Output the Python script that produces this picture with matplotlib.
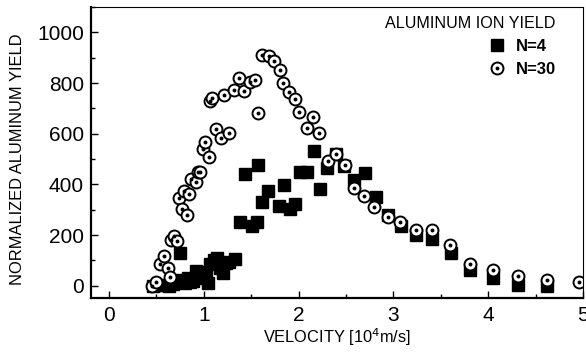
import matplotlib
matplotlib.use("Agg")
import matplotlib.pyplot as plt
from matplotlib.ticker import MultipleLocator

plt.rcParams['font.family'] = ['Liberation Sans', 'DejaVu Sans']

# N=4 (filled squares)
v_n4 = [0.47, 0.53, 0.58, 0.63, 0.68, 0.72, 0.75, 0.77, 0.80, 0.83, 0.86, 0.89,
        0.92, 0.95, 0.98, 1.02, 1.05, 1.07, 1.11, 1.14, 1.17, 1.20, 1.23, 1.27,
        1.33, 1.38, 1.44, 1.51, 1.56, 1.57, 1.62, 1.68, 1.79, 1.85, 1.91, 1.96,
        2.02, 2.09, 2.16, 2.23, 2.30, 2.39, 2.48, 2.58, 2.70, 2.82, 2.94, 3.08,
        3.24, 3.41, 3.61, 3.81, 4.05, 4.31, 4.62]
y_n4 = [0, 2, 5, 0, 8, 14, 131, 22, 10, 30, 15, 20,
        60, 40, 30, 55, 10, 85, 100, 110, 70, 50, 90, 95,
        105, 250, 443, 236, 252, 476, 330, 375, 313, 398, 304, 324,
        449, 449, 531, 382, 465, 522, 474, 419, 446, 350, 280, 236,
        201, 184, 128, 62, 29, 3, 0]

# N=30 (dotted circles)
v_n30 = [0.46, 0.50, 0.535, 0.58, 0.62, 0.64, 0.66, 0.69, 0.72, 0.74, 0.77, 0.79,
         0.82, 0.85, 0.87, 0.92, 0.94, 0.96, 0.99, 1.01, 1.055, 1.07, 1.09, 1.13,
         1.18, 1.21, 1.27, 1.32, 1.37, 1.43, 1.49, 1.54, 1.57, 1.61, 1.69, 1.74,
         1.80, 1.84, 1.90, 1.96, 2.01, 2.09, 2.15, 2.22, 2.31, 2.39, 2.49, 2.58,
         2.69, 2.80, 2.94, 3.07, 3.24, 3.41, 3.60, 3.81, 4.05, 4.31, 4.62, 4.96]
y_n30 = [0, 16, 85, 118, 71, 33, 181, 197, 176, 346, 302, 374,
         280, 363, 421, 408, 450, 448, 539, 567, 509, 729, 740, 617,
         585, 753, 602, 773, 820, 769, 804, 812, 683, 910, 905, 888,
         853, 802, 765, 738, 687, 623, 668, 602, 493, 519, 476, 387,
         353, 310, 272, 252, 221, 221, 159, 86, 62, 37, 24, 13]

fig = plt.figure(figsize=(5.86, 3.53), dpi=100)
ax = fig.add_axes([0.155, 0.156, 0.84, 0.824])

sq, = ax.plot(v_n4, y_n4, 's', color='black', markersize=9.2, linestyle='none')
circ, = ax.plot(v_n30, y_n30, 'o', markerfacecolor='white', markeredgecolor='black',
                markersize=8.6, markeredgewidth=1.4, linestyle='none')
dot, = ax.plot(v_n30, y_n30, 'o', color='black', markersize=1.8, linestyle='none')

ax.set_xlim(-0.19, 5.0)
ax.set_ylim(-48, 1100)
ax.xaxis.set_major_locator(MultipleLocator(1))
ax.xaxis.set_minor_locator(MultipleLocator(0.5))
ax.yaxis.set_major_locator(MultipleLocator(200))
ax.yaxis.set_minor_locator(MultipleLocator(100))
ax.tick_params(which='both', direction='in', labelsize=15, width=1)
ax.tick_params(which='major', length=5)
ax.tick_params(axis='y', which='major', pad=5)
ax.tick_params(axis='x', which='major', pad=6)
ax.tick_params(which='minor', length=3)

for s in ['left', 'bottom']:
    ax.spines[s].set_linewidth(1.6)
for s in ['top', 'right']:
    ax.spines[s].set_linewidth(0.8)

ax.set_xlabel('VELOCITY [10$^4$m/s]', fontsize=11.8, labelpad=1)
ax.set_ylabel('NORMALIZED ALUMINUM YIELD', fontsize=11.9)
ax.yaxis.set_label_coords(-0.133, 0.476)

leg = ax.legend([sq, (circ, dot)], ['N=4', 'N=30'], title='ALUMINUM ION YIELD',
                loc='upper right', bbox_to_anchor=(0.944, 0.968), frameon=False,
                prop={'weight': 'bold', 'size': 12}, title_fontsize=11.6,
                handlelength=1.0, handletextpad=0.6, borderpad=0, borderaxespad=0,
                labelspacing=0.47)
leg._legend_box.align = 'right'

fig.savefig('out.png', dpi=100)
